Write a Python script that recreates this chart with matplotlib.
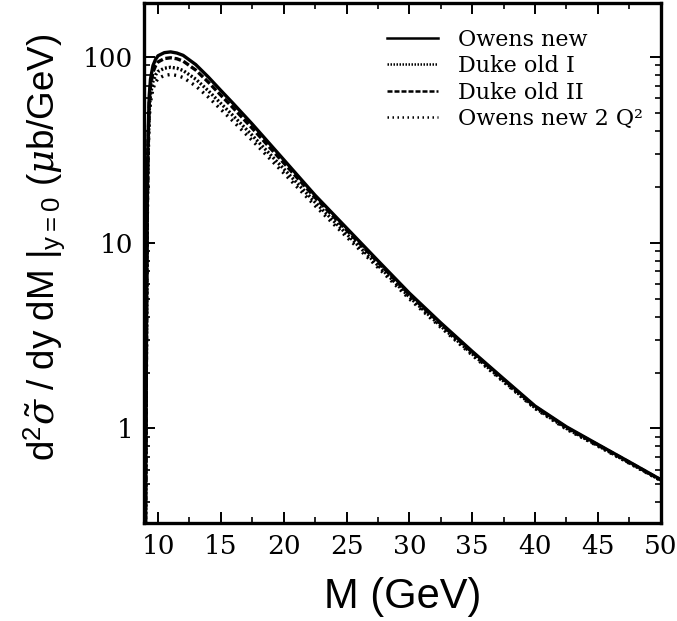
import matplotlib
matplotlib.use("Agg")
import matplotlib.pyplot as plt
from matplotlib.ticker import LogLocator, NullFormatter, FixedLocator, MultipleLocator

# dilepton mass grid (GeV) and cross sections (mub/GeV) for each PDF set
mass = [9.0, 9.05, 9.1, 9.15, 9.2, 9.3, 9.4, 9.6, 9.8, 10.0, 10.5, 11.0, 11.5,
        12.0, 13.0, 14.0, 15.0, 16.0, 17.5, 20.0, 22.5, 25.0, 27.5, 30.0,
        32.5, 35.0, 37.5, 40.0, 42.5, 45.0, 47.5, 50.0]

owens_new = [0.25, 1.2, 6.0, 18.0, 35.0, 62.0, 76.0, 90.0, 97.0, 101.5, 105.5,
             106.5, 105.0, 102.0, 91.0, 78.0, 66.0, 56.0, 43.5, 28.0, 18.0,
             12.0, 8.0, 5.35, 3.7, 2.6, 1.85, 1.32, 1.02, 0.82, 0.66, 0.53]

duke_old_2 = [0.23, 1.1, 5.5, 16.5, 32.0, 57.0, 70.0, 83.0, 89.5, 94.0, 98.0,
              99.0, 97.8, 95.0, 85.0, 73.2, 62.2, 53.0, 41.3, 26.9, 17.5,
              11.7, 7.85, 5.25, 3.65, 2.57, 1.83, 1.31, 1.01, 0.815, 0.657, 0.528]

duke_old_1 = [0.2, 1.0, 4.9, 14.8, 28.5, 51.0, 62.5, 74.0, 80.0, 83.5, 87.0,
              88.0, 87.0, 84.5, 76.0, 65.8, 56.2, 48.1, 37.8, 25.0, 16.5,
              11.15, 7.55, 5.1, 3.56, 2.52, 1.8, 1.29, 1.0, 0.808, 0.652, 0.526]

owens_new_2q2 = [0.18, 0.9, 4.5, 13.5, 26.0, 46.5, 57.0, 67.5, 73.0, 76.5, 79.5,
                 80.5, 79.5, 77.5, 69.8, 60.8, 52.2, 44.9, 35.5, 23.7, 15.8,
                 10.75, 7.35, 4.98, 3.5, 2.48, 1.78, 1.28, 0.99, 0.803, 0.649, 0.524]

series_labels = ["Owens new", "Duke old I", "Duke old II", "Owens new 2 Q²"]

xticks = [10, 15, 20, 25, 30, 35, 40, 45, 50]
yticks = [1, 10, 100]
ytick_labels = ["1", "10", "100"]

serif = ["DejaVu Serif"]
sans = ["Liberation Sans", "DejaVu Sans"]
plt.rcParams["mathtext.fontset"] = "custom"
plt.rcParams["mathtext.rm"] = "Liberation Sans"
plt.rcParams["mathtext.it"] = "DejaVu Serif:italic"

fig = plt.figure(figsize=(6.77, 6.21), dpi=100)
ax = fig.add_axes([0.213, 0.158, 0.763, 0.837])

lw = 2.4
l1, = ax.plot(mass, owens_new, color="black", lw=lw, ls="-")
l2, = ax.plot(mass, duke_old_1, color="black", lw=lw, ls=(0, (0.6, 0.6)))
l3, = ax.plot(mass, duke_old_2, color="black", lw=lw, ls=(0, (2.0, 0.8)))
l4, = ax.plot(mass, owens_new_2q2, color="black", lw=lw, ls=(0, (0.6, 1.4)))

ax.set_yscale("log")
ax.set_xlim(8.9, 50)
ax.set_ylim(0.31, 195)

ax.xaxis.set_major_locator(FixedLocator(xticks))
ax.xaxis.set_minor_locator(MultipleLocator(2.5))
ax.yaxis.set_major_locator(FixedLocator(yticks))
ax.set_yticklabels(ytick_labels)
ax.yaxis.set_minor_locator(LogLocator(base=10, subs=range(2, 10)))
ax.yaxis.set_minor_formatter(NullFormatter())

ax.tick_params(which="both", direction="in", top=True, right=True)
ax.tick_params(which="major", length=8, width=1.4, labelsize=19, pad=8)
ax.tick_params(which="minor", length=4, width=1.2)
for lab in ax.get_xticklabels() + ax.get_yticklabels():
    lab.set_family(serif)
for sp in ax.spines.values():
    sp.set_linewidth(2.4)

ax.set_xlabel("M (GeV)", fontsize=30, family=sans)
ax.xaxis.set_label_coords(0.5, -0.105)
ax.set_ylabel(r"d$^2\tilde{\sigma}$ / dy dM |$_{\rm y=0}$ ($\mu$b/GeV)",
              fontsize=26.5, family=sans)
ax.yaxis.set_label_coords(-0.15, 0.53)

leg = ax.legend([l1, l2, l3, l4], series_labels, loc="upper right",
                bbox_to_anchor=(1.0, 0.985),
                frameon=False, handlelength=2.3, handletextpad=0.9,
                labelspacing=0.2, borderaxespad=0.4,
                prop={"family": serif, "size": 16})
for h in leg.get_lines():
    h.set_linewidth(1.8)

fig.savefig("out.png", dpi=100, facecolor="white")
